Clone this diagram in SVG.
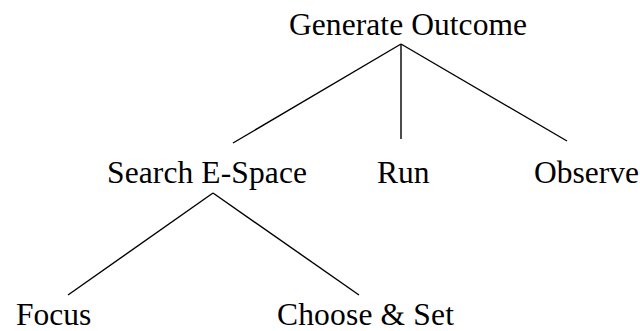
<svg xmlns="http://www.w3.org/2000/svg" width="640" height="331" viewBox="0 0 640 331">
<style>
text{font-family:"Liberation Serif","Times New Roman",serif;font-size:31.5px;fill:#000}
.c line{stroke:#000;stroke-width:1.4}
</style>
<rect width="640" height="331" fill="#fff"/>
<g class="c" id="connectors">
<line x1="401" y1="44" x2="233" y2="143"/>
<line x1="401" y1="44" x2="401" y2="139"/>
<line x1="401" y1="44" x2="567" y2="141"/>
<line x1="213" y1="193" x2="68" y2="295"/>
<line x1="213" y1="193" x2="359" y2="295"/>
</g>
<g id="generate"><text x="289" y="35" textLength="238">Generate Outcome</text></g>
<g id="search"><text x="107" y="183" textLength="200">Search E-Space</text></g>
<g id="run"><text x="377" y="183">Run</text></g>
<g id="observe"><text x="534" y="183">Observe</text></g>
<g id="focus"><text x="16" y="325">Focus</text></g>
<g id="choose"><text x="277" y="325" textLength="177">Choose &amp; Set</text></g>
</svg>
